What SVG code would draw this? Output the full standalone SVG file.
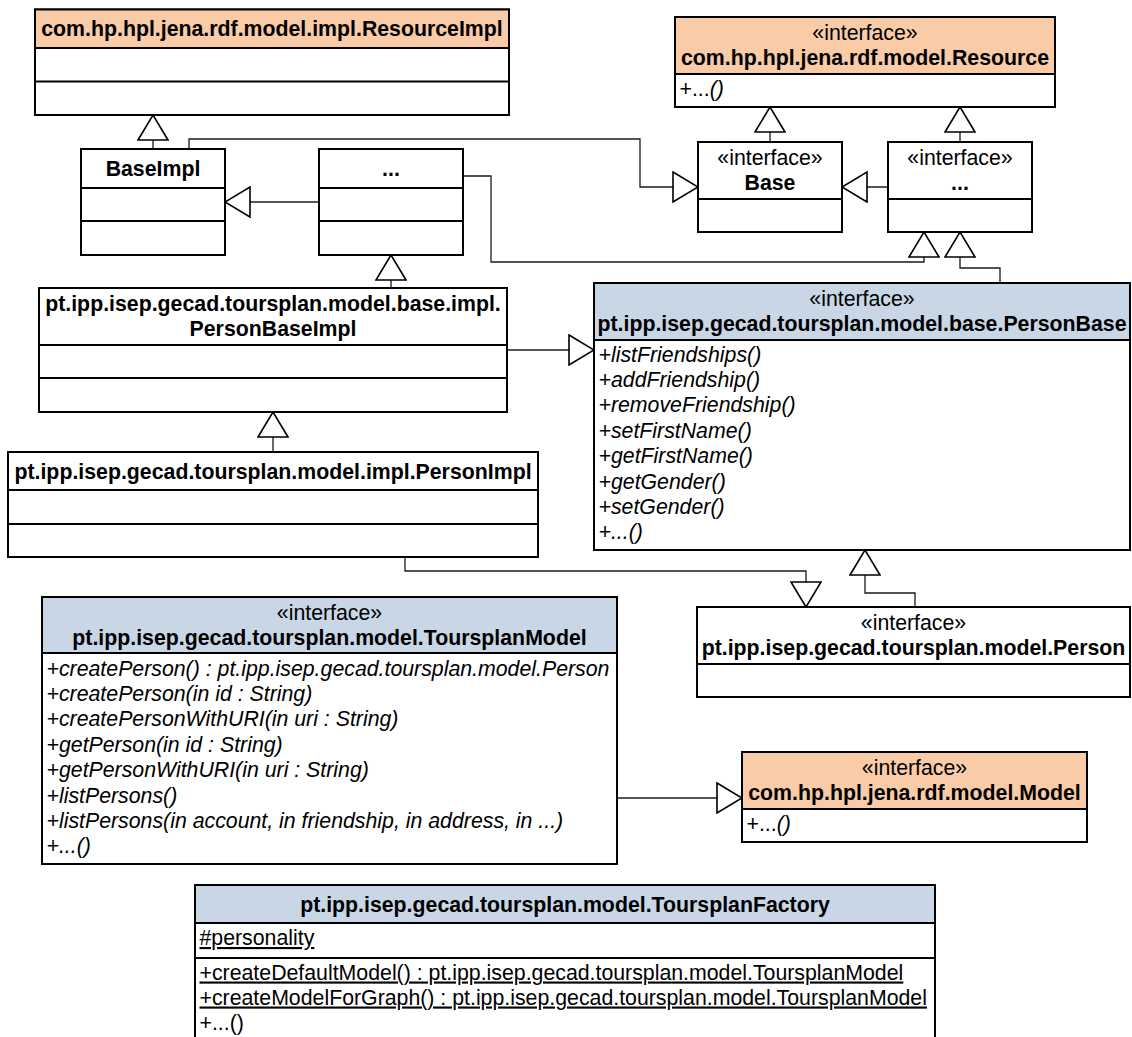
<svg xmlns="http://www.w3.org/2000/svg" width="1132" height="1037" viewBox="0 0 1132 1037">
  <style>
    .box { fill: #ffffff; stroke: #000000; stroke-width: 2; }
    .jena { fill: #F9CBA7; stroke: #000000; stroke-width: 2; }
    .tp { fill: #C9D6E5; stroke: #000000; stroke-width: 2; }
    .div { stroke: #000000; stroke-width: 2; }
    .t { font-family: "Liberation Sans", Arial, Helvetica, sans-serif; font-size: 21.3px; fill: #000000; }
    .b { font-weight: bold; }
    .c { text-anchor: middle; }
    .i { font-style: italic; }
    .u { text-decoration: underline; }
    .conn { fill: none; stroke: #1a1a1a; stroke-width: 1.3; marker-end: url(#gen); }
  </style>
  <defs>
    <!-- hollow triangle used for generalization / realization ends -->
    <marker id="gen" viewBox="-1 -1 27 32" refX="25" refY="15" markerWidth="27" markerHeight="32" markerUnits="userSpaceOnUse" orient="auto">
      <path d="M0,0 L25,15 L0,30 Z" fill="#ffffff" stroke="#000000" stroke-width="1.6" stroke-linejoin="miter"/>
    </marker>
  </defs>

  <rect x="0" y="0" width="1132" height="1037" fill="#ffffff"/>

  <!-- connectors -->
  <g id="connectors">
    <path class="conn" d="M153,149 V115"/>
    <path class="conn" d="M189,149 V139 H640 V187 H698"/>
    <path class="conn" d="M319,202 H225"/>
    <path class="conn" d="M463,176 H491 V262 H924 V232"/>
    <path class="conn" d="M770,142 V107"/>
    <path class="conn" d="M960,142 V107"/>
    <path class="conn" d="M888,187 H842"/>
    <path class="conn" d="M1000,283 V268 H960 V232"/>
    <path class="conn" d="M391,288 V255"/>
    <path class="conn" d="M507,350 H594"/>
    <path class="conn" d="M273,452 V412"/>
    <path class="conn" d="M405,557 V571 H806 V607"/>
    <path class="conn" d="M915,607 V593 H865 V550"/>
    <path class="conn" d="M617,798 H742"/>
  </g>

  <!-- com.hp.hpl.jena.rdf.model.impl.ResourceImpl -->
  <g id="ResourceImpl">
    <rect class="box" x="35" y="9.5" width="474" height="105.5"/>
    <rect class="jena" x="35" y="9.5" width="474" height="38.5"/>
    <line class="div" x1="35" y1="81.5" x2="509" y2="81.5"/>
    <text class="t b c" x="272" y="36">com.hp.hpl.jena.rdf.model.impl.ResourceImpl</text>
  </g>

  <!-- BaseImpl -->
  <g id="BaseImpl">
    <rect class="box" x="81" y="149" width="144" height="106"/>
    <line class="div" x1="81" y1="188" x2="225" y2="188"/>
    <line class="div" x1="81" y1="221" x2="225" y2="221"/>
    <text class="t b c" x="153" y="176">BaseImpl</text>
  </g>

  <!-- intermediate implementation class -->
  <g id="ImplEllipsis">
    <rect class="box" x="319" y="149" width="144" height="106"/>
    <line class="div" x1="319" y1="188" x2="463" y2="188"/>
    <line class="div" x1="319" y1="221" x2="463" y2="221"/>
    <text class="t b c" x="391" y="176">...</text>
  </g>

  <!-- com.hp.hpl.jena.rdf.model.Resource -->
  <g id="Resource">
    <rect class="box" x="675" y="17" width="380" height="90"/>
    <rect class="jena" x="675" y="17" width="380" height="57"/>
    <text class="t c" x="865" y="39.5">«interface»</text>
    <text class="t b c" x="865" y="65">com.hp.hpl.jena.rdf.model.Resource</text>
    <text class="t" x="679.5" y="95.5">+...<tspan class="i">()</tspan></text>
  </g>

  <!-- Base -->
  <g id="Base">
    <rect class="box" x="698" y="142" width="144" height="90"/>
    <line class="div" x1="698" y1="199" x2="842" y2="199"/>
    <text class="t c" x="770" y="164.5">«interface»</text>
    <text class="t b c" x="770" y="190">Base</text>
  </g>

  <!-- intermediate interface -->
  <g id="IfaceEllipsis">
    <rect class="box" x="888" y="142" width="144" height="90"/>
    <line class="div" x1="888" y1="199" x2="1032" y2="199"/>
    <text class="t c" x="960" y="164.5">«interface»</text>
    <text class="t b c" x="960" y="190">...</text>
  </g>

  <!-- PersonBaseImpl -->
  <g id="PersonBaseImpl">
    <rect class="box" x="39" y="288" width="468" height="124"/>
    <line class="div" x1="39" y1="345" x2="507" y2="345"/>
    <line class="div" x1="39" y1="378" x2="507" y2="378"/>
    <text class="t b c" x="273" y="310.5">pt.ipp.isep.gecad.toursplan.model.base.impl.</text>
    <text class="t b c" x="273" y="336">PersonBaseImpl</text>
  </g>

  <!-- PersonBase -->
  <g id="PersonBase">
    <rect class="box" x="594" y="283" width="536" height="267"/>
    <rect class="tp" x="594" y="283" width="536" height="57"/>
    <text class="t c" x="862" y="305.5">«interface»</text>
    <text class="t b c" x="862" y="331">pt.ipp.isep.gecad.toursplan.model.base.PersonBase</text>
    <g class="t i">
      <text x="598.5" y="361.5">+listFriendships()</text>
      <text x="598.5" y="386.9">+addFriendship()</text>
      <text x="598.5" y="412.3">+removeFriendship()</text>
      <text x="598.5" y="437.7">+setFirstName()</text>
      <text x="598.5" y="463.1">+getFirstName()</text>
      <text x="598.5" y="488.5">+getGender()</text>
      <text x="598.5" y="513.9">+setGender()</text>
      <text x="598.5" y="539.3">+...()</text>
    </g>
  </g>

  <!-- PersonImpl -->
  <g id="PersonImpl">
    <rect class="box" x="8" y="452" width="530" height="105"/>
    <line class="div" x1="8" y1="490" x2="538" y2="490"/>
    <line class="div" x1="8" y1="524" x2="538" y2="524"/>
    <text class="t b c" x="273" y="479">pt.ipp.isep.gecad.toursplan.model.impl.PersonImpl</text>
  </g>

  <!-- Person -->
  <g id="Person">
    <rect class="box" x="697" y="607" width="433" height="90"/>
    <line class="div" x1="697" y1="664" x2="1130" y2="664"/>
    <text class="t c" x="913.5" y="629.5">«interface»</text>
    <text class="t b c" x="913.5" y="655">pt.ipp.isep.gecad.toursplan.model.Person</text>
  </g>

  <!-- ToursplanModel -->
  <g id="ToursplanModel">
    <rect class="box" x="42" y="597" width="575" height="267"/>
    <rect class="tp" x="42" y="597" width="575" height="56"/>
    <text class="t c" x="329.5" y="619.5">«interface»</text>
    <text class="t b c" x="329.5" y="645">pt.ipp.isep.gecad.toursplan.model.ToursplanModel</text>
    <g class="t i">
      <text x="46.5" y="675.5">+createPerson() : pt.ipp.isep.gecad.toursplan.model.Person</text>
      <text x="46.5" y="700.9">+createPerson(in id : String)</text>
      <text x="46.5" y="726.3">+createPersonWithURI(in uri : String)</text>
      <text x="46.5" y="751.7">+getPerson(in id : String)</text>
      <text x="46.5" y="777.1">+getPersonWithURI(in uri : String)</text>
      <text x="46.5" y="802.5">+listPersons()</text>
      <text x="46.5" y="827.9">+listPersons(in account, in friendship, in address, in ...)</text>
      <text x="46.5" y="853.3">+...()</text>
    </g>
  </g>

  <!-- com.hp.hpl.jena.rdf.model.Model -->
  <g id="Model">
    <rect class="box" x="742" y="752" width="345" height="90"/>
    <rect class="jena" x="742" y="752" width="345" height="57"/>
    <text class="t c" x="914.5" y="774.5">«interface»</text>
    <text class="t b c" x="914.5" y="800">com.hp.hpl.jena.rdf.model.Model</text>
    <text class="t" x="746.5" y="830.5">+...<tspan class="i">()</tspan></text>
  </g>

  <!-- ToursplanFactory -->
  <g id="ToursplanFactory">
    <rect class="box" x="195" y="885" width="740" height="160"/>
    <rect class="tp" x="195" y="885" width="740" height="38"/>
    <line class="div" x1="195" y1="958" x2="935" y2="958"/>
    <text class="t b c" x="565" y="912">pt.ipp.isep.gecad.toursplan.model.ToursplanFactory</text>
    <text class="t u" x="199.5" y="945">#personality</text>
    <text class="t u" x="199.5" y="979.5">+createDefaultModel() : pt.ipp.isep.gecad.toursplan.model.ToursplanModel</text>
    <text class="t u" x="199.5" y="1004.5">+createModelForGraph() : pt.ipp.isep.gecad.toursplan.model.ToursplanModel</text>
    <text class="t" x="199.5" y="1029.5">+...()</text>
  </g>
</svg>
